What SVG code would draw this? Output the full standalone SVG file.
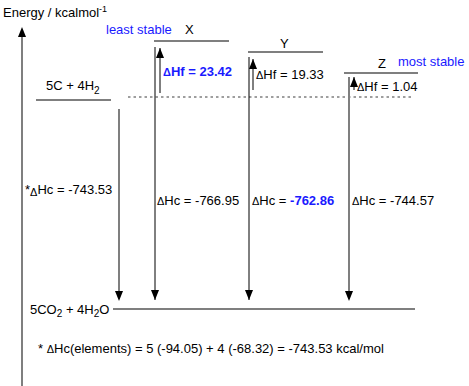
<svg xmlns="http://www.w3.org/2000/svg" width="469" height="386" viewBox="0 0 469 386">
<style>
text{font-family:"Liberation Sans",Arial,sans-serif;font-size:13px;fill:#000}
.blue{fill:#1a1aff}
.b{font-weight:bold}
.d{font-size:11px}
.lvl{stroke:#7f7f7f;stroke-width:2;fill:none}
.gr{stroke:#7f7f7f;stroke-width:2;fill:none}
.bk{stroke:#000;stroke-width:1;fill:none}
.dash{stroke:#7f7f7f;stroke-width:1.5;stroke-dasharray:2.5,3;fill:none}
</style>
<defs>
<marker id="ah" markerWidth="10" markerHeight="8" refX="10" refY="4" orient="auto" markerUnits="userSpaceOnUse" viewBox="0 0 10 8">
<path d="M0,0 L10,4 L0,8 z" fill="#000"/>
</marker>
</defs>
<rect width="469" height="386" fill="#fff"/>
<g id="axis">
<line class="gr" x1="22" y1="386" x2="22" y2="36"/>
<path d="M18,37 L26,37 L22,27 z" fill="#000"/>
<text x="3" y="17">Energy / kcalmol<tspan dy="-5" font-size="9">-1</tspan></text>
</g>
<g id="elements">
<line class="lvl" x1="36" y1="100" x2="111" y2="100"/>
<text x="46" y="90">5C + 4H<tspan dy="4" font-size="10">2</tspan></text>
</g>
<g id="X">
<line class="lvl" x1="154" y1="41" x2="229" y2="41"/>
<text x="106" y="34" class="blue">least stable</text>
<text x="185" y="34">X</text>
</g>
<g id="Y">
<line class="lvl" x1="248" y1="52" x2="323" y2="52"/>
<text x="280" y="48">Y</text>
</g>
<g id="Z">
<line class="lvl" x1="344" y1="73" x2="418" y2="73"/>
<text x="378" y="68">Z</text>
<text x="398" y="66" class="blue">most stable</text>
</g>
<g id="products">
<line class="lvl" x1="113" y1="309" x2="415" y2="309"/>
<text x="30" y="314">5CO<tspan dy="3" font-size="10">2</tspan><tspan dy="-3"> + 4H</tspan><tspan dy="3" font-size="10">2</tspan><tspan dy="-3">O</tspan></text>
</g>
<g id="connectors">
<line class="dash" x1="128" y1="97" x2="414" y2="97"/>
<line class="gr" x1="119" y1="109" x2="119" y2="292"/>
<path d="M115,291 L123,291 L119,301 z" fill="#000"/>
<line class="bk" x1="155" y1="47" x2="155" y2="300" marker-end="url(#ah)"/>
<line class="bk" x1="160" y1="93" x2="160" y2="48" marker-end="url(#ah)"/>
<line class="bk" x1="249" y1="57" x2="249" y2="300" marker-end="url(#ah)"/>
<line class="bk" x1="253" y1="90" x2="253" y2="59" marker-end="url(#ah)"/>
<line class="gr" x1="349" y1="77" x2="349" y2="292"/>
<path d="M345,291 L353,291 L349,301 z" fill="#000"/>
<line class="bk" x1="354" y1="90" x2="354" y2="77" marker-end="url(#ah)"/>
</g>
<g id="labels">
<text x="163" y="76" class="blue b"><tspan class="d">Δ</tspan>Hf = 23.42</text>
<text x="256" y="79"><tspan class="d">Δ</tspan>Hf = 19.33</text>
<text x="357" y="91"><tspan class="d">Δ</tspan>Hf = 1.04</text>
<text x="25" y="194">*<tspan class="d" dy="2">Δ</tspan><tspan dy="-2">Hc = -743.53</tspan></text>
<text x="157" y="205"><tspan class="d">Δ</tspan>Hc = -766.95</text>
<text x="252" y="205"><tspan class="d">Δ</tspan>Hc = <tspan class="blue b">-762.86</tspan></text>
<text x="352" y="205"><tspan class="d">Δ</tspan>Hc = -744.57</text>
<text x="38" y="353">* <tspan class="d">Δ</tspan>Hc(elements) = 5 (-94.05) + 4 (-68.32) = -743.53 kcal/mol</text>
</g>
</svg>
